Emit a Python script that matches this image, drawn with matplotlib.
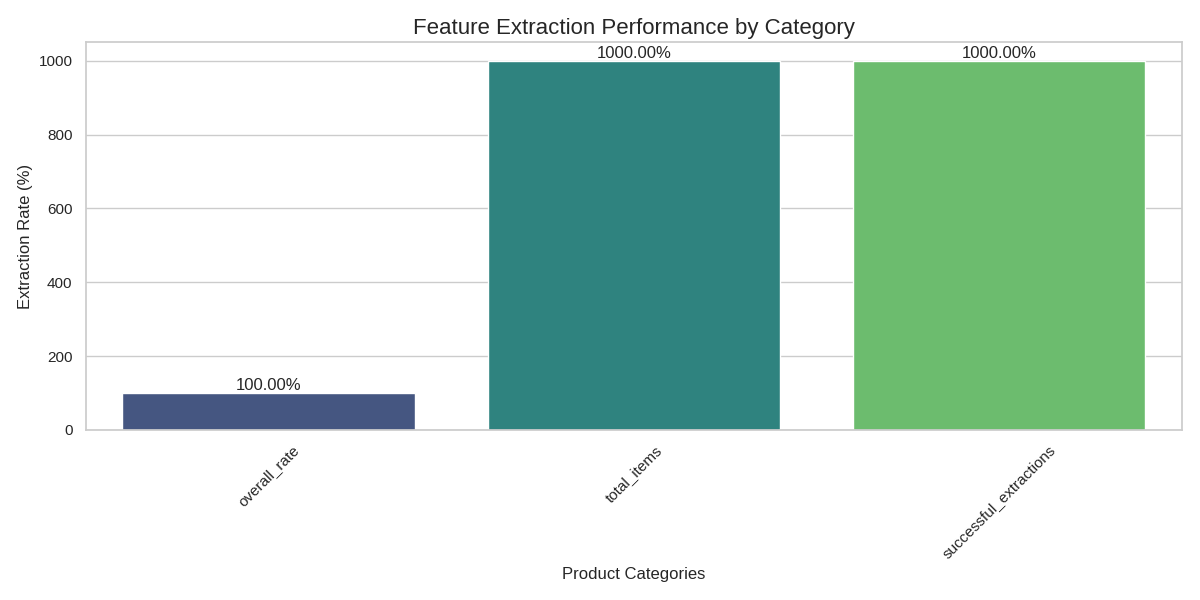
import matplotlib
matplotlib.use("Agg")
import matplotlib.pyplot as plt
import seaborn as sns

# Data
categories = ["overall_rate", "total_items", "successful_extractions"]
rates = [100.0, 1000.0, 1000.0]

sns.set_theme(style="whitegrid")
plt.rcParams["font.family"] = ["Liberation Sans", "DejaVu Sans"]

fig, ax = plt.subplots(figsize=(12, 6), dpi=100)
sns.barplot(x=categories, y=rates, hue=categories, palette="viridis", legend=False, ax=ax)

for i, v in enumerate(rates):
    ax.text(i, v, f"{v:.2f}%", ha="center", va="bottom", fontsize=12)

ax.set_title("Feature Extraction Performance by Category", fontsize=16)
ax.set_xlabel("Product Categories", fontsize=12)
ax.set_ylabel("Extraction Rate (%)", fontsize=12)
plt.xticks(rotation=45)
plt.tight_layout()
plt.savefig("out.png")
